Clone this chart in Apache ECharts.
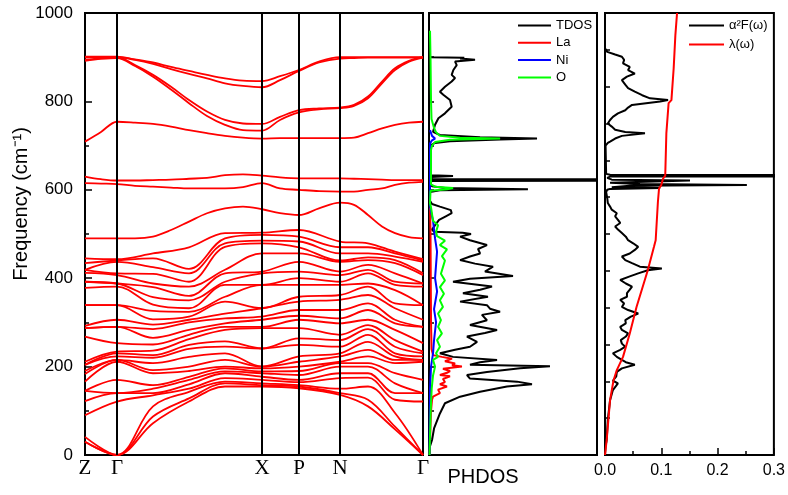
<!DOCTYPE html>
<html><head><meta charset="utf-8">
<script src="https://cdn.jsdelivr.net/npm/echarts@6/dist/echarts.min.js"></script>
<style>html,body{margin:0;padding:0;background:#fff}#c{width:788px;height:495px}</style>
</head><body><div id="c"></div>
<script>
// ---------- band structure: k-path ----------
const kTicks = [0, 32, 177, 214, 255, 338];
const kLabels = ['Z', 'Γ', 'X', 'P', 'N', 'Γ'];
const kLines = [32, 177, 214, 255];

// upper bands on a fine k grid
const kFine = [0, 16, 32, 50, 68, 86, 104, 122, 140, 158, 177, 195, 214, 234, 255, 269, 283, 297, 310, 324, 338];
const bandH1 = [901, 901, 901, 895, 888, 878, 869, 860, 852, 847, 846, 857, 871, 890, 900, 900, 900, 900, 900, 900, 900];
const bandH2 = [894, 898, 900, 894, 885, 873, 862, 852, 841, 835, 832, 848, 869, 888, 897, 898, 899, 899, 899, 899, 899];
const bandH3 = [899, 900, 900, 882, 860, 833, 803, 777, 758, 750, 749, 765, 780, 784, 786, 792, 811, 845, 875, 892, 900];
const bandH4 = [892, 896, 898, 880, 856, 827, 796, 767, 747, 735, 734, 758, 775, 782, 785, 790, 807, 841, 871, 890, 899];
const bandH5 = [709, 731, 754, 752, 749, 743, 735, 728, 722, 718, 716, 717, 717, 717, 717, 718, 728, 739, 747, 752, 754];
const bandH6 = [630, 624, 621, 621, 622, 623, 625, 627, 633, 635, 632, 628, 626, 626, 626, 625, 624, 623, 622, 622, 622];
const bandH7 = [615, 614, 613, 609, 607, 605, 603, 603, 603, 606, 615, 603, 600, 597, 596, 596, 600, 603, 611, 616, 618];
const bandA  = [490, 490, 490, 490, 494, 509, 528, 547, 558, 562, 556, 547, 543, 558, 571, 566, 543, 517, 502, 493, 490];

// lower bands: frequencies at each k point of a coarse grid (ascending)
const kCoarse = [0, 32, 68, 104, 140, 177, 214, 255, 283, 310, 338];
const colZ    = [30, 30, 41, 90, 122, 145, 145, 166, 183, 190, 204, 204, 211, 268, 287, 287, 292, 339, 339, 378, 392, 392, 412, 419, 419, 434, 445];
const colG    = [0, 0, 0, 121, 140, 140, 170, 211, 215, 215, 223, 230, 234, 253, 290, 290, 306, 339, 339, 381, 388, 388, 407, 411, 437, 440, 443];
const colK68  = [72, 87, 110, 135, 140, 150, 158, 185, 192, 208, 220, 226, 236, 250, 265, 285, 295, 307, 326, 340, 357, 380, 388, 410, 425, 445, 456];
const colK104 = [121, 128, 143, 150, 160, 170, 177, 190, 200, 222, 240, 249, 262, 272, 283, 300, 306, 313, 324, 332, 350, 360, 381, 392, 411, 421, 470];
const colK140 = [155, 162, 166, 174, 185, 189, 196, 200, 215, 230, 245, 257, 283, 290, 298, 309, 320, 347, 358, 385, 392, 411, 419, 471, 479, 490, 502];
const colX    = [155, 158, 162, 170, 177, 185, 189, 196, 200, 200, 241, 241, 287, 290, 306, 313, 332, 332, 385, 385, 411, 415, 456, 479, 485, 498, 503];
const colP    = [151, 155, 158, 165, 170, 181, 190, 200, 211, 223, 249, 264, 287, 306, 315, 328, 347, 358, 385, 400, 415, 437, 456, 470, 483, 494, 509];
const colN    = [136, 140, 150, 174, 185, 200, 208, 211, 223, 230, 245, 260, 272, 298, 309, 328, 351, 362, 385, 392, 407, 415, 437, 440, 456, 470, 483];
const colK283 = [110, 125, 155, 175, 185, 200, 208, 223, 238, 256, 272, 285, 294, 306, 328, 343, 362, 381, 388, 411, 419, 430, 441, 447, 456, 470, 479];
const colK310 = [58, 64, 95, 125, 140, 162, 185, 208, 215, 223, 230, 245, 260, 283, 298, 306, 332, 343, 373, 385, 392, 411, 434, 441, 449, 456, 460];

// ---------- PHDOS (frequency, DOS in arbitrary units) ----------
const tdosFreq = [0,20,34,60,94,117,132,143,155,160,166,173,181,188,196,201,204,210,215,222,230,238,245,256,268,276,283,294,305,317,324,331,339,347,358,366,374,381,392,399,405,415,426,433,441,449,456,466,475,486,494,500,503,505,510,520,532,540,547,554,562,568,575,595,599,601,604,608,616,620,622,624,629,631,633,640,700,706,710,714,716,719,724,731,747,762,773,788,803,815,822,833,845,853,860,871,882,890,894,897,899,900,906];
const tdosVal  = [0.003,0.006,0.018,0.030,0.065,0.095,0.185,0.304,0.464,0.613,0.524,0.244,0.226,0.345,0.542,0.720,0.244,0.304,0.405,0.143,0.065,0.155,0.244,0.286,0.226,0.333,0.405,0.244,0.345,0.315,0.423,0.363,0.345,0.185,0.351,0.202,0.304,0.375,0.143,0.244,0.500,0.333,0.381,0.274,0.185,0.244,0.304,0.292,0.345,0.244,0.185,0.250,0.200,0.030,0.018,0.036,0.060,0.100,0.135,0.130,0.065,0.018,0.006,0.006,0.065,0.589,0.095,0.018,0.006,0.018,5,0.018,0.012,0.143,0.012,0.006,0.006,0.036,0.125,0.423,0.643,0.304,0.065,0.024,0.036,0.056,0.095,0.135,0.125,0.085,0.065,0.095,0.135,0.155,0.135,0.145,0.165,0.155,0.274,0.185,0.210,0.006,0.003];
const laFreq = [0,100,125,132,140,148,155,160,165,172,178,181,186,190,195,200,203,207,212,218,222,226,240,300,500,560];
const laVal  = [0.003,0.012,0.018,0.024,0.065,0.054,0.107,0.065,0.095,0.083,0.125,0.065,0.107,0.125,0.083,0.196,0.137,0.155,0.095,0.137,0.077,0.024,0.015,0.012,0.009,0.006];
const niFreq = [0,150,200,230,260,300,330,370,400,430,460,490,510,530,550,565,705,712,716,722,735];
const niVal  = [0.003,0.006,0.012,0.024,0.030,0.042,0.030,0.048,0.036,0.042,0.048,0.036,0.030,0.024,0.012,0.006,0.006,0.018,0.036,0.018,0.006];
const oFreq = [0,100,150,180,200,215,222,230,245,260,275,290,305,320,335,350,365,380,395,410,425,440,450,465,475,485,495,505,520,530,545,560,570,598,601,604,607,612,690,700,708,713,716,718,722,730,740,760,800,900,960];
const oVal  = [0.003,0.010,0.016,0.024,0.036,0.024,0.054,0.042,0.065,0.048,0.077,0.054,0.071,0.054,0.083,0.065,0.089,0.065,0.095,0.071,0.083,0.095,0.077,0.107,0.065,0.095,0.048,0.042,0.054,0.024,0.018,0.012,0.006,0.009,0.107,0.143,0.036,0.012,0.012,0.018,0.036,0.125,0.423,0.185,0.065,0.042,0.030,0.015,0.012,0.009,0.006];

// ---------- Eliashberg function and lambda ----------
const a2fFreq = [0,20,34,80,124,147,162,168,178,188,196,204,210,215,222,230,238,245,252,260,268,275,283,290,298,305,313,320,328,335,343,351,358,366,374,381,388,396,404,411,418,422,426,434,441,449,456,464,471,479,486,494,502,510,517,525,532,540,547,555,562,570,581,595,600,602,604,606,609,611,613,616,619,621,623,627,630,632,634,636,640,700,706,709,716,722,728,731,736,743,750,758,765,773,780,786,792,800,803,807,814,822,830,838,848,856,863,871,878,886,894,901,906,912,916,920];
const a2fVal  = [0,0.001,0.003,0.005,0.009,0.014,0.023,0.014,0.020,0.021,0.030,0.053,0.037,0.030,0.021,0.014,0.027,0.036,0.030,0.028,0.037,0.041,0.030,0.027,0.037,0.036,0.046,0.059,0.041,0.030,0.034,0.027,0.039,0.039,0.044,0.048,0.037,0.027,0.044,0.059,0.076,0.101,0.062,0.048,0.036,0.030,0.044,0.053,0.059,0.050,0.041,0.037,0.030,0.023,0.018,0.027,0.023,0.018,0.021,0.012,0.009,0.005,0.004,0.002,0.004,0.009,0.098,0.012,0.044,0.252,0.062,0.009,0.012,0.151,0.012,0.004,0.009,2.0,0.009,0.002,0.001,0.001,0.005,0.009,0.018,0.030,0.071,0.036,0.018,0.012,0.005,0.009,0.014,0.023,0.036,0.041,0.048,0.098,0.112,0.080,0.066,0.053,0.041,0.036,0.030,0.039,0.053,0.041,0.044,0.032,0.034,0.030,0.018,0.004,0.001,0];
const lamFreq = [0,34,80,124,168,192,222,275,335,418,471,486,573,603,611,625,632,728,796,803,875,950,1000];
const lamVal  = [0,0.003,0.006,0.009,0.015,0.021,0.032,0.044,0.056,0.076,0.087,0.090,0.094,0.096,0.100,0.103,0.107,0.109,0.113,0.118,0.122,0.125,0.128];

// ---------- build ----------
const SANS = 'Liberation Sans, Arial, sans-serif';
const SERIF = 'Liberation Serif, Times New Roman, serif';
const RED = '#ff0000';
const series = [];
const upper = [bandH1, bandH2, bandH3, bandH4, bandH5, bandH6, bandH7, bandA];
const cols = [colZ, colG, colK68, colK104, colK140, colX, colP, colN, colK283, colK310, colG];
function bandSeries(data) {
  return {type: 'line', xAxisIndex: 0, yAxisIndex: 0, data, symbol: 'none', smooth: 0.35,
    lineStyle: {color: RED, width: 1.8}, silent: true, z: 2};
}
upper.forEach(b => series.push(bandSeries(kFine.map((k, i) => [k, b[i]]))));
for (let b = 0; b < colZ.length; b++) {
  series.push(bandSeries(kCoarse.map((k, i) => [k, cols[i][b]])));
}
series[0].markLine = {silent: true, symbol: ['none', 'none'], label: {show: false},
  lineStyle: {color: '#000', width: 2, type: 'solid'}, emphasis: {disabled: true},
  data: kLines.map(k => ({xAxis: k}))};

function dosSeries(name, fr, val, color, xi) {
  return {name, type: 'line', xAxisIndex: xi, yAxisIndex: xi, symbol: 'none', clip: true,
    data: fr.map((f, i) => [val[i], f]), lineStyle: {color, width: 2}, itemStyle: {color}, silent: true};
}
series.push(dosSeries('TDOS', tdosFreq, tdosVal, '#000000', 1));
series.push(dosSeries('La', laFreq, laVal, '#ff0000', 1));
series.push(dosSeries('Ni', niFreq, niVal, '#0000ff', 1));
series.push(dosSeries('O', oFreq, oVal, '#00ff00', 1));
series.push(dosSeries('α²F(ω)', a2fFreq, a2fVal, '#000000', 2));
series.push(dosSeries('λ(ω)', lamFreq, lamVal, '#ff0000', 2));

const gridBase = {top: 13, height: 442, show: true, borderColor: '#000', borderWidth: 2, containLabel: false};
const yBase = {type: 'value', min: 0, max: 1000, splitLine: {show: false}, axisLine: {show: false},
  axisTick: {inside: true, length: 5, lineStyle: {color: '#000', width: 1.5}}};
const legendBase = {orient: 'vertical', itemHeight: 14, selectedMode: false, padding: 0,
  itemStyle: {opacity: 0}, textStyle: {fontFamily: SANS, fontSize: 13, color: '#000'}};

const option = {
  animation: false,
  backgroundColor: '#fff',
  grid: [
    Object.assign({left: 85, width: 338}, gridBase),
    Object.assign({left: 429, width: 168}, gridBase),
    Object.assign({left: 605, width: 169}, gridBase)
  ],
  xAxis: [
    {gridIndex: 0, type: 'value', min: 0, max: 338, splitLine: {show: false}, axisLine: {show: false},
      axisTick: {show: false},
      axisLabel: {customValues: kTicks, formatter: v => kLabels[kTicks.indexOf(v)] || '',
        fontFamily: SERIF, fontSize: 21, color: '#000', margin: 3}},
    {gridIndex: 1, type: 'value', min: 0, max: 1, splitLine: {show: false}, axisLine: {show: false},
      axisTick: {show: false}, axisLabel: {show: false},
      name: 'PHDOS', nameLocation: 'middle', nameGap: 12,
      nameTextStyle: {fontFamily: SANS, fontSize: 20, color: '#000', padding: [0, 60, 0, 0]}},
    {gridIndex: 2, type: 'value', min: 0, max: 0.3, interval: 0.1, splitLine: {show: false}, axisLine: {show: false},
      axisTick: {inside: true, length: 7, lineStyle: {color: '#000', width: 1.5}},
      minorTick: {show: true, splitNumber: 2, length: 4, lineStyle: {color: '#000', width: 1.5}},
      axisLabel: {formatter: v => v.toFixed(1), fontFamily: SANS, fontSize: 16, color: '#000', margin: 8}}
  ],
  yAxis: [
    Object.assign({}, yBase, {gridIndex: 0, interval: 200,
      axisTick: {inside: true, length: 7, lineStyle: {color: '#000', width: 1.5}},
      minorTick: {show: true, splitNumber: 2, length: 4, lineStyle: {color: '#000', width: 1.5}},
      axisLabel: {formatter: v => String(v), fontFamily: SANS, fontSize: 17, color: '#000', margin: 12},
      name: 'Frequency (cm⁻¹)', nameLocation: 'middle', nameGap: 33, nameRotate: 90,
      nameTextStyle: {fontFamily: SANS, fontSize: 20, color: '#000', padding: [0, 0, 0, 60]}}),
    Object.assign({}, yBase, {gridIndex: 1, interval: 100, axisLabel: {show: false}}),
    Object.assign({}, yBase, {gridIndex: 2, interval: 1000 / 12, axisLabel: {show: false}})
  ],
  legend: [
    Object.assign({data: ['TDOS', 'La', 'Ni', 'O'], left: 517, top: 19, itemWidth: 33, itemGap: 4.3}, legendBase),
    Object.assign({data: ['α²F(ω)', 'λ(ω)'], left: 688, top: 19, itemWidth: 35, itemGap: 6}, legendBase)
  ],
  series
};
const chart = echarts.init(document.getElementById('c'), null, {renderer: 'canvas'});
chart.setOption(option);
</script></body></html>
